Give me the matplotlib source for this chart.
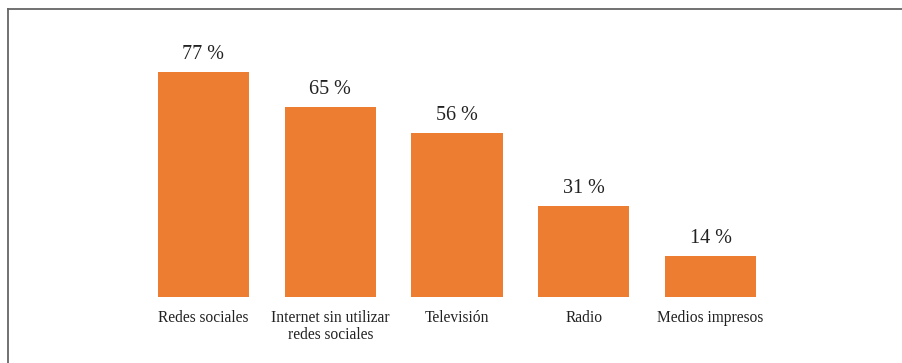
import matplotlib.pyplot as plt
from matplotlib.lines import Line2D

categories = ['Redes sociales', 'Internet sin utilizar\nredes sociales', 'Televisión', 'Radio', 'Medios impresos']
values = [77, 65, 56, 31, 14]

plt.rcParams['font.family'] = ['Liberation Serif', 'DejaVu Serif']

W, H = 902, 363
fig = plt.figure(figsize=(W / 100, H / 100), dpi=100)

# axes placed so bars land where the reference has them
left, right = 140.1, 773.9
bottom_px, top_px = 296.7, 4.9
ax = fig.add_axes([left / W, (H - bottom_px) / H, (right - left) / W, (bottom_px - top_px) / H])

x = list(range(len(categories)))
bars = ax.bar(x, values, width=0.718, color='#ED7D31')
ax.set_xlim(-0.5, len(categories) - 0.5)
ax.set_ylim(0, 100)

for b, v in zip(bars, values):
    ax.annotate(f'{v} %', (b.get_x() + b.get_width() / 2, v), xytext=(0, 6),
                textcoords='offset points', ha='center', va='bottom',
                fontsize=14.5, color='#222222')

ax.set_xticks(x)
ax.set_xticklabels(categories, fontsize=11.2, color='#222222', linespacing=1.1)
ax.tick_params(axis='x', length=0, pad=9.5)
ax.set_yticks([])
for s in ax.spines.values():
    s.set_visible(False)

# frame: only top and left edges are visible
fig.add_artist(Line2D([8 / W, 8 / W], [0, 1 - 9 / H], color='#666666', lw=1.3))
fig.add_artist(Line2D([8 / W, 1], [1 - 9 / H, 1 - 9 / H], color='#666666', lw=1.3))

fig.savefig('out.png', dpi=100)
